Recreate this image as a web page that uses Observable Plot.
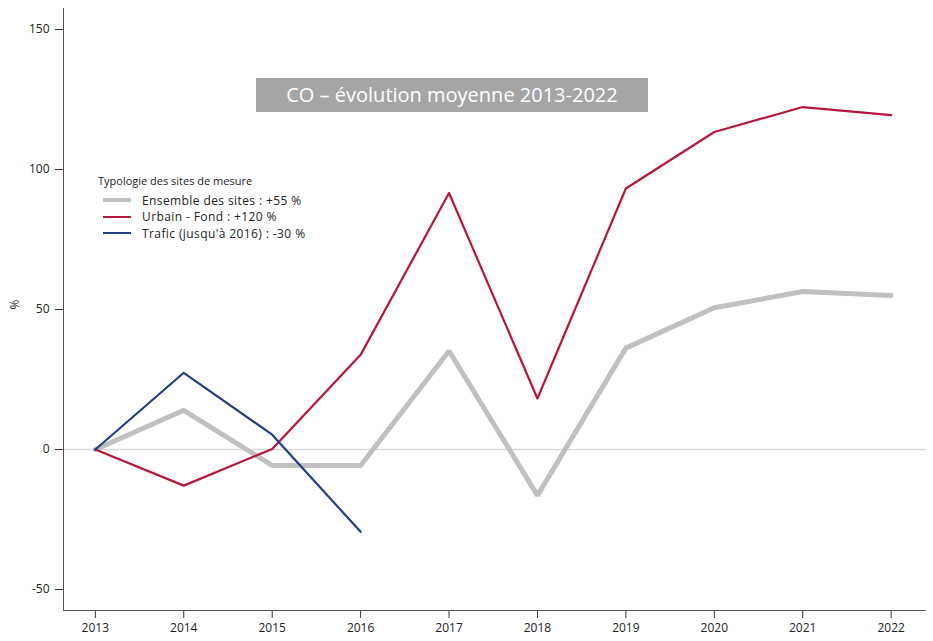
<!DOCTYPE html>
<html>
<head>
<meta charset="utf-8">
<script src="https://cdn.jsdelivr.net/npm/d3@7"></script>
<script src="https://cdn.jsdelivr.net/npm/@observablehq/plot@0.6"></script>
<style>
  html, body { margin: 0; padding: 0; background: #fff; }
  #wrap { position: relative; width: 933px; height: 641px; font-family: "Open Sans", "Noto Sans", sans-serif; }
  #title { position: absolute; left: 256px; top: 78px; width: 392px; height: 34px; background: #a5a5a5; color: #fff;
           font-size: 20px; line-height: 34px; text-align: center; }
  #legend { position: absolute; left: 98px; top: 173px; font-size: 11px; color: #222; }
  #legend .t { margin-bottom: 4px; }
  #legend .row { display: flex; align-items: center; height: 16.5px; padding-left: 5px; font-size: 12px; letter-spacing: 0.4px; }
  #legend .sw { width: 28px; margin-right: 11px; }
</style>
</head>
<body>
<div id="wrap">
  <div id="chart"></div>
  <div id="title">CO – évolution moyenne 2013-2022</div>
  <div id="legend">
    <div class="t">Typologie des sites de mesure</div>
    <div class="row"><div class="sw" style="border-top:4px solid #c0c0c0"></div>Ensemble des sites : +55 %</div>
    <div class="row"><div class="sw" style="border-top:2px solid #b7173b"></div>Urbain - Fond : +120 %</div>
    <div class="row"><div class="sw" style="border-top:2px solid #233e84"></div>Trafic (jusqu'à 2016) : -30 %</div>
  </div>
</div>
<script>
const years = [2013, 2014, 2015, 2016, 2017, 2018, 2019, 2020, 2021, 2022];
const ensemble = [0, 14, -5.7, -5.7, 35.2, -16.4, 36.2, 50.6, 56.4, 55];
const urbain = [0, -12.9, 0.2, 33.8, 91.6, 18.2, 93.2, 113.4, 122.3, 119.4];
const traficYears = [2013, 2014, 2015, 2016];
const trafic = [0, 27.4, 5.3, -29.4];
const yTicks = [-50, 0, 50, 100, 150];

const dEns = years.map((x, i) => ({x, y: ensemble[i]}));
const dUrb = years.map((x, i) => ({x, y: urbain[i]}));
const dTra = traficYears.map((x, i) => ({x, y: trafic[i]}));

const plot = Plot.plot({
  width: 933,
  height: 641,
  marginLeft: 63,
  marginRight: 7,
  marginTop: 8,
  marginBottom: 31,
  style: { fontFamily: "'Open Sans', 'Noto Sans', sans-serif", fontSize: "12px", color: "#222", background: "#fff" },
  x: { domain: [2012.64, 2022.40], label: null },
  y: { domain: [-57.5, 157.5], label: null },
  marks: [
    Plot.ruleY([0], { stroke: "#d9d9d9", strokeWidth: 1.5 }),
    Plot.axisX({ ticks: years, tickFormat: d => String(d), tickSize: 8, tickPadding: 5, stroke: "#333", label: null }),
    Plot.axisY({ ticks: yTicks, tickFormat: d => String(d), tickSize: 8, tickPadding: 6, stroke: "#333", label: null }),
    Plot.ruleX([2012.64], { stroke: "#555", strokeWidth: 1 }),
    Plot.ruleY([-57.5], { stroke: "#555", strokeWidth: 1 }),
    Plot.text(["%"], { frameAnchor: "left", dx: -48, rotate: -90, fontSize: 12 }),
    Plot.line(dEns, { x: "x", y: "y", stroke: "#c0c0c0", strokeWidth: 5, strokeLinejoin: "miter" }),
    Plot.line(dUrb, { x: "x", y: "y", stroke: "#b7173b", strokeWidth: 2.2 }),
    Plot.line(dTra, { x: "x", y: "y", stroke: "#233e84", strokeWidth: 2.2 })
  ]
});
document.getElementById("chart").appendChild(plot);
</script>
</body>
</html>
